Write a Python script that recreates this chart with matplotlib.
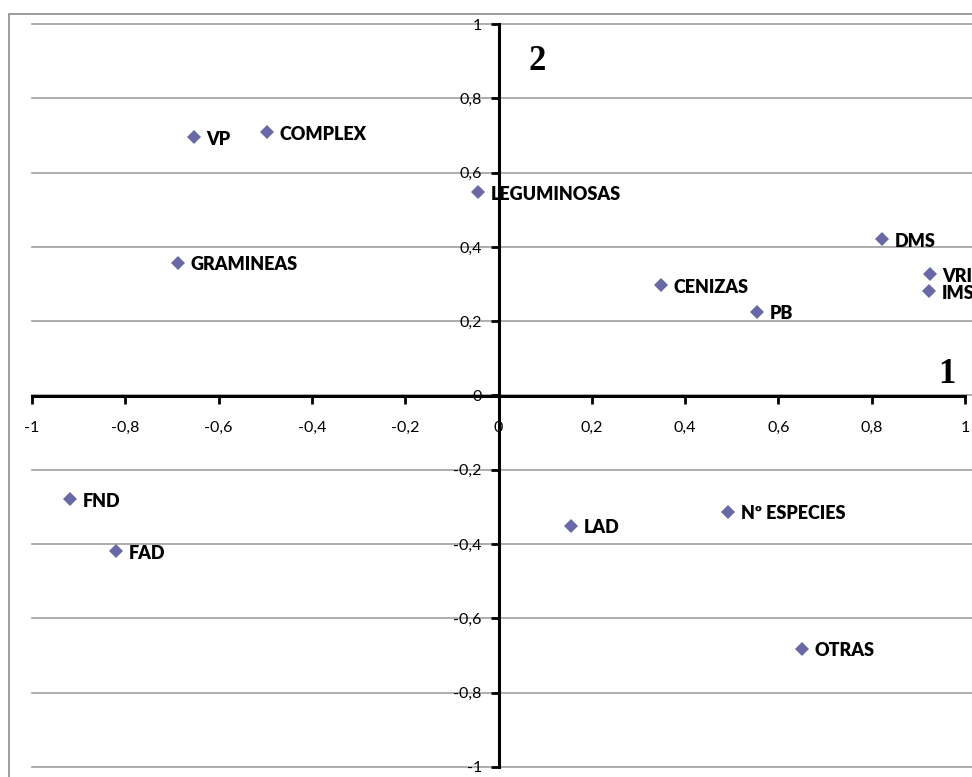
"""Biplot de componentes 1 y 2 (estilo Excel): variables con etiquetas."""

import matplotlib

matplotlib.use("Agg")
import matplotlib.pyplot as plt  # noqa: E402
from matplotlib.patches import Rectangle  # noqa: E402
from matplotlib.ticker import FuncFormatter, MultipleLocator  # noqa: E402

# datos
labels = ["VP", "COMPLEX", "LEGUMINOSAS", "GRAMINEAS", "DMS", "VRI", "IMS",
          "CENIZAS", "PB", "FND", "FAD", "LAD", "Nº ESPECIES", "OTRAS"]
comp1 = [-0.653, -0.496, -0.044, -0.687, 0.822, 0.925, 0.923,
         0.348, 0.554, -0.918, -0.820, 0.155, 0.492, 0.651]
comp2 = [0.696, 0.709, 0.548, 0.357, 0.421, 0.327, 0.281,
         0.297, 0.225, -0.279, -0.419, -0.351, -0.313, -0.682]

W, H = 972, 777
fig = plt.figure(figsize=(W / 100, H / 100), dpi=100)

# marco exterior del gráfico
fig.patches.append(Rectangle((9 / W, -0.1), 1.2, 1.1 - 14 / H, transform=fig.transFigure,
                             fill=False, edgecolor="#8c8c8c", linewidth=1.2))

x0, x1 = 32, 980            # píxeles: -1 -> 32, 1 -> 965
y_top, y_bot = 24, 767
ax = fig.add_axes([x0 / W, (H - y_bot) / H, (x1 - x0) / W, (y_bot - y_top) / H])
ax.set_xlim(-1, -1 + (x1 - x0) / 466.5)
ax.set_ylim(-1, 1)
ax.patch.set_alpha(0)

ax.spines[["top", "right"]].set_visible(False)
for s in ("left", "bottom"):
    ax.spines[s].set_position("zero")
    ax.spines[s].set_linewidth(2.2)
    ax.spines[s].set_bounds(-1, 1)

ax.xaxis.set_major_locator(MultipleLocator(0.2))
ax.yaxis.set_major_locator(MultipleLocator(0.2))
fmt = FuncFormatter(lambda v, p: ("%g" % round(v, 2)).replace(".", ",")
                    if abs(v) > 1e-9 else "0")
ax.xaxis.set_major_formatter(fmt)
ax.yaxis.set_major_formatter(fmt)
ax.tick_params(axis="both", direction="out", length=6, width=2, labelsize=11.5,
               colors="black")
ax.tick_params(axis="x", pad=12)
ax.tick_params(axis="y", pad=6)
for t in ax.get_xticklabels() + ax.get_yticklabels():
    t.set_fontfamily("Lato")

ax.yaxis.grid(True, color="#a0a0a0", linewidth=1.2)
for gl in ax.get_ygridlines():
    gl.set_clip_on(False)
ax.set_axisbelow(True)

ax.plot(comp1, comp2, linestyle="none", marker="D", markersize=7.5,
        color="#6868a4", markeredgewidth=0, clip_on=False, zorder=3)
for name, x, y in zip(labels, comp1, comp2):
    ax.annotate(name, (x, y), xytext=(9, -1.5), textcoords="offset points",
                ha="left", va="center", fontsize=13, fontweight="heavy",
                fontfamily="Lato", zorder=4)

fig.text(537 / W, 1 - 62 / H, "2", ha="center", va="center", fontsize=25,
         fontweight="bold", fontfamily="Liberation Serif")
fig.text(947 / W, 1 - 375 / H, "1", ha="center", va="center", fontsize=25,
         fontweight="bold", fontfamily="Liberation Serif")

fig.savefig("out.png", dpi=100)
plt.close(fig)
